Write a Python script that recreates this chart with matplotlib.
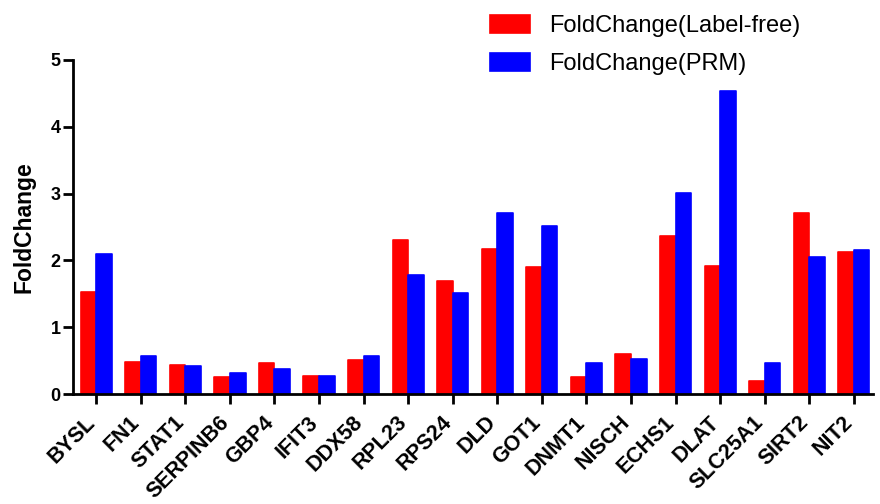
import numpy as np
import matplotlib
matplotlib.use('Agg')
import matplotlib.pyplot as plt
from matplotlib.transforms import ScaledTranslation

plt.rcParams['font.family'] = ['Liberation Sans', 'DejaVu Sans']

# ==================== DATA ====================

genes = ['BYSL', 'FN1', 'STAT1', 'SERPINB6', 'GBP4', 'IFIT3', 'DDX58', 'RPL23',
         'RPS24', 'DLD', 'GOT1', 'DNMT1', 'NISCH', 'ECHS1', 'DLAT', 'SLC25A1',
         'SIRT2', 'NIT2']
fc_label_free = [1.53, 0.48, 0.43, 0.26, 0.46, 0.27, 0.51, 2.30,
                 1.69, 2.17, 1.90, 0.26, 0.60, 2.37, 1.91, 0.19,
                 2.71, 2.13]
fc_prm = [2.09, 0.57, 0.42, 0.31, 0.37, 0.27, 0.57, 1.78,
          1.51, 2.71, 2.51, 0.47, 0.53, 3.01, 4.54, 0.47,
          2.05, 2.16]

# ==================== PLOT ====================

fig = plt.figure(figsize=(8.8, 5.04), dpi=100)
ax = fig.add_axes([0.083, 0.218, 0.909, 0.663])

x = np.arange(len(genes))
w = 0.35
ax.bar(x - w / 2, fc_label_free, w, color='#ff0000', edgecolor='#ff0000',
       linewidth=1.2, joinstyle='round', label='FoldChange(Label-free)')
ax.bar(x + w / 2, fc_prm, w, color='#0000ff', edgecolor='#0000ff',
       linewidth=1.2, joinstyle='round', label='FoldChange(PRM)')

ax.set_xlim(-0.52, len(genes) - 0.57)
ax.set_ylim(0, 5)
ax.set_yticks(range(6))
ax.set_xticks(x)
ax.set_xticklabels(genes, rotation=45, ha='right', va='baseline',
                   rotation_mode='anchor', fontsize=15.5, fontweight='bold')
# nudge the rotated gene names a little to the right of their ticks
shift = ScaledTranslation(4 / 100, 0, fig.dpi_scale_trans)
for lbl in ax.get_xticklabels():
    lbl.set_transform(lbl.get_transform() + shift)
for lbl in ax.get_yticklabels():
    lbl.set_fontweight('bold')
    lbl.set_fontsize(13)

for side in ['top', 'right']:
    ax.spines[side].set_visible(False)
for side in ['left', 'bottom']:
    ax.spines[side].set_linewidth(2)
    ax.spines[side].set_zorder(3)
ax.tick_params(width=2, length=7, direction='out')
ax.tick_params(axis='y', pad=2)
ax.tick_params(axis='x', pad=14)

ax.set_ylabel('FoldChange', fontsize=16.5, fontweight='bold', labelpad=11)

fig.legend(loc='upper left', bbox_to_anchor=(0.533, 1.012), frameon=False,
           fontsize=17, handlelength=1.7, handleheight=0.75,
           handletextpad=0.78, labelspacing=0.68)

fig.savefig('out.png', dpi=100)
